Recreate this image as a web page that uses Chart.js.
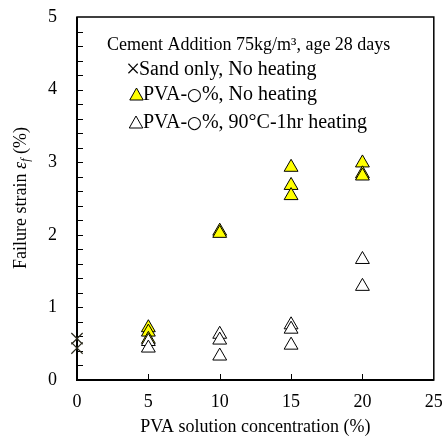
<!DOCTYPE html>
<html lang="en">
<head>
<meta charset="UTF-8">
<title>Failure strain vs PVA solution concentration</title>
<script src="https://cdn.jsdelivr.net/npm/chart.js@4.4.0/dist/chart.umd.min.js"></script>
<style>
    html, body { margin: 0; padding: 0; background: #fff; overflow: hidden; }
    #wrap { position: relative; width: 443px; height: 439px; }
</style>
</head>
<body>
<div id="wrap"><canvas id="chart"></canvas></div>
<script>
// data
const sandX = [0, 0];
const sandY = [0.57, 0.44];
const plainX = [5, 5, 5, 10, 10, 15, 15, 15, 20, 20, 20];
const plainY = [0.72, 0.66, 0.56, 2.05, 2.02, 2.93, 2.68, 2.54, 2.99, 2.84, 2.81];
const heatX = [5, 5, 10, 10, 10, 15, 15, 15, 20, 20];
const heatY = [0.53, 0.44, 0.63, 0.55, 0.33, 0.76, 0.70, 0.48, 1.66, 1.29];
const xTicks = [0, 5, 10, 15, 20, 25];
const yTicks = [0, 1, 2, 3, 4, 5];
const noteText = 'Cement Addition 75kg/m³, age 28 days';
const sandName = 'Sand only, No heating';
const pvaPrefix = 'PVA-';
const pvaMark = '○';
const plainSuffix = '%, No heating';
const heatSuffix = '%, 90°C-1hr heating';
const xTitle = 'PVA solution concentration (%)';
const yTitleParts = ['Failure strain ', 'ε', 'f', ' (%)'];

const serif = '"Liberation Serif", "Times New Roman", serif';

function pts(xs, ys) {
    return xs.map((x, i) => ({ x: x, y: ys[i] }));
}

function triangle(ctx, cx, top, bottom, fill) {
    const h = bottom - top;
    const w = h * 1.12;
    ctx.beginPath();
    ctx.moveTo(cx, top);
    ctx.lineTo(cx + w / 2, bottom);
    ctx.lineTo(cx - w / 2, bottom);
    ctx.closePath();
    if (fill) {
        ctx.fillStyle = fill;
        ctx.fill();
    }
    ctx.strokeStyle = '#000';
    ctx.lineWidth = 1;
    ctx.stroke();
}

// writes pieces of text one after the other, each with its own font
function writeRun(ctx, parts, x, y) {
    parts.forEach(p => {
        ctx.font = p.font;
        ctx.fillText(p.text, x, y + (p.dy || 0));
        x += ctx.measureText(p.text).width;
    });
}

function runWidth(ctx, parts) {
    let w = 0;
    parts.forEach(p => {
        ctx.font = p.font;
        w += ctx.measureText(p.text).width;
    });
    return w;
}

const framePlugin = {
    id: 'frame',
    beforeDatasetsDraw(chart) {
        const ctx = chart.ctx;
        const a = chart.chartArea;
        const xs = chart.scales.x;
        const ys = chart.scales.y;
        ctx.save();
        ctx.strokeStyle = '#000';
        ctx.lineWidth = 1;
        // y ticks every 0.2, pointing inward
        for (let i = 1; i < 25; i++) {
            const y = Math.round(ys.getPixelForValue(i / 5)) + 0.5;
            ctx.beginPath();
            ctx.moveTo(a.left, y);
            ctx.lineTo(a.left + 6, y);
            ctx.stroke();
        }
        xTicks.slice(1, -1).forEach(v => {
            const x = Math.round(xs.getPixelForValue(v)) + 0.5;
            ctx.beginPath();
            ctx.moveTo(x, a.bottom);
            ctx.lineTo(x, a.bottom - 6);
            ctx.stroke();
        });
        ctx.lineWidth = 1.5;
        ctx.strokeRect(a.left, a.top, a.right - a.left, a.bottom - a.top);
        ctx.lineWidth = 2;
        ctx.beginPath();
        ctx.moveTo(a.left, a.top);
        ctx.lineTo(a.left, a.bottom);
        ctx.lineTo(a.right, a.bottom);
        ctx.stroke();
        ctx.restore();
    },
    afterDraw(chart) {
        const ctx = chart.ctx;

        // y axis title with italic epsilon and subscript f
        const titleParts = [
            { text: yTitleParts[0], font: '18px ' + serif },
            { text: yTitleParts[1], font: 'italic 18px ' + serif },
            { text: yTitleParts[2], font: 'italic 12px ' + serif, dy: 3 },
            { text: yTitleParts[3], font: '18px ' + serif }
        ];
        ctx.save();
        ctx.fillStyle = '#000';
        ctx.textAlign = 'left';
        ctx.textBaseline = 'alphabetic';
        ctx.translate(26, 198);
        ctx.rotate(-Math.PI / 2);
        writeRun(ctx, titleParts, -runWidth(ctx, titleParts) / 2, 0);
        ctx.restore();

        // note + legend inside the plot
        ctx.save();
        ctx.fillStyle = '#000';
        ctx.textAlign = 'left';
        ctx.textBaseline = 'alphabetic';
        ctx.font = '18px ' + serif;
        ctx.fillText(noteText, 107, 50);
        const big = '20px ' + serif;
        const mark = '17px "DejaVu Sans"';
        ctx.font = '25px ' + serif;
        ctx.fillText('×', 126, 77);
        ctx.font = big;
        ctx.fillText(sandName, 139, 75);
        triangle(ctx, 136.5, 88, 100, '#ffff00');
        ctx.fillStyle = '#000';
        writeRun(ctx, [
            { text: pvaPrefix, font: big },
            { text: pvaMark, font: mark },
            { text: plainSuffix, font: big }
        ], 143, 100);
        triangle(ctx, 136, 116, 128, null);
        writeRun(ctx, [
            { text: pvaPrefix, font: big },
            { text: pvaMark, font: mark },
            { text: heatSuffix, font: big }
        ], 143, 128);
        ctx.restore();
    }
};

const tickFont = { family: serif, size: 18 };

new Chart(document.getElementById('chart'), {
    type: 'scatter',
    data: {
        datasets: [
            {
                label: sandName,
                data: pts(sandX, sandY),
                pointStyle: 'crossRot',
                pointRadius: 8,
                borderColor: '#2b2a1c',
                borderWidth: 1.2,
                clip: false,
                order: 2
            },
            {
                label: pvaPrefix + pvaMark + plainSuffix,
                data: pts(plainX, plainY),
                pointStyle: 'triangle',
                pointRadius: 8,
                backgroundColor: '#ffff00',
                borderColor: '#000',
                borderWidth: 1,
                order: 1
            },
            {
                label: pvaPrefix + pvaMark + heatSuffix,
                data: pts(heatX, heatY),
                pointStyle: 'triangle',
                pointRadius: 8,
                backgroundColor: '#ffffff',
                borderColor: '#000',
                borderWidth: 1,
                order: 0
            }
        ]
    },
    options: {
        responsive: true,
        maintainAspectRatio: false,
        animation: false,
        events: [],
        layout: { padding: { top: 17, right: 5, left: 0, bottom: 0 } },
        plugins: {
            legend: { display: false },
            tooltip: { enabled: false }
        },
        scales: {
            x: {
                type: 'linear',
                min: 0,
                max: 25,
                afterBuildTicks: s => { s.ticks = xTicks.map(v => ({ value: v })); },
                ticks: { font: tickFont, color: '#000', padding: 11, maxRotation: 0, minRotation: 0 },
                grid: { display: false, drawTicks: false },
                border: { display: false },
                title: {
                    display: true,
                    text: xTitle,
                    font: { family: serif, size: 18 },
                    color: '#000',
                    padding: { top: 0, bottom: 1 }
                },
                afterFit: s => {
                    s.height = 59;
                    s.paddingLeft = 0;
                    s.paddingRight = 0;
                }
            },
            y: {
                type: 'linear',
                min: 0,
                max: 5,
                afterBuildTicks: s => { s.ticks = yTicks.map(v => ({ value: v })); },
                ticks: { font: tickFont, color: '#000', padding: 20 },
                grid: { display: false, drawTicks: false },
                border: { display: false },
                afterFit: s => {
                    s.width = 77;
                    s.paddingTop = 0;
                    s.paddingBottom = 0;
                }
            }
        }
    },
    plugins: [framePlugin]
});
</script>
</body>
</html>
